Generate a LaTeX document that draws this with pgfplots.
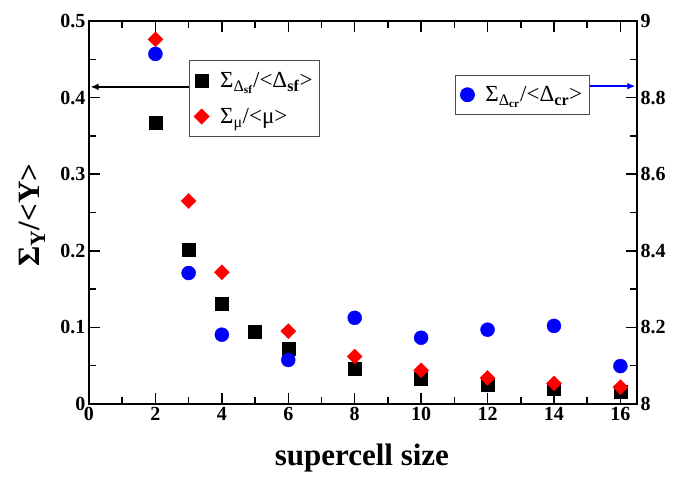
\documentclass[border=0pt]{standalone}
\usepackage{fontspec}
\setmainfont{Liberation Serif}
\usepackage{pgfplots}
\pgfplotsset{compat=1.18}
\usetikzlibrary{arrows.meta}

\begin{document}
\begin{tikzpicture}
\pgfplotsset{
  every axis/.append style={
    width=548pt, height=383pt, scale only axis,
    xmin=0, xmax=16.5,
    tick align=inside,
    major tick length=11pt, minor tick length=7pt,
    axis line style={line width=1.5pt},
    every tick/.style={line width=1.5pt, black},
    /pgf/number format/assume math mode=true,
    tick label style={font=\fontsize{20}{24}\selectfont\bfseries},
    legend cell align=left,
  },
}
\begin{axis}[
  ymin=0, ymax=0.5,
  xtick={0,2,4,6,8,10,12,14,16}, minor x tick num=1,
  ytick={0,0.1,0.2,0.3,0.4,0.5}, minor y tick num=1,
  ytick pos=left,
  xlabel={supercell size}, ylabel={Σ\textsubscript{Y}/<Y>},
  label style={font=\fontsize{31}{36}\selectfont\bfseries},
  xlabel style={at={(axis description cs:0.498,-0.141)}, anchor=center},
  ylabel style={at={(axis description cs:-0.104,0.493)}, anchor=center},
  legend style={at={(axis description cs:0.182,0.898)}, anchor=north west,
    draw=black!70, line width=0.8pt, font=\fontsize{23}{26}\selectfont,
    inner xsep=5pt, inner ysep=10pt, row sep=15pt, column sep=9pt},
]
\addplot[only marks, mark=square*, mark size=6.5pt, black] coordinates {
  (2,0.367) (3,0.202) (4,0.131) (5,0.094) (6,0.072) (8,0.046)
  (10,0.033) (12,0.025) (14,0.020) (16,0.016)
};
\addlegendentry{Σ\textsubscript{Δ\textsubscript{\textbf{sf}}}/<Δ\textsubscript{\textbf{sf}}>}
\addplot[only marks, mark=square*, mark size=5.3pt, red, mark options={rotate=45}] coordinates {
  (2,0.476) (3,0.265) (4,0.172) (6,0.095) (8,0.062)
  (10,0.044) (12,0.034) (14,0.027) (16,0.022)
};
\addlegendentry{Σ\textsubscript{μ}/<μ>}
\draw[line width=1.5pt, -{Latex[length=8pt,width=7pt]}] (axis cs:3.0,0.414) -- (axis cs:0.05,0.414);
\end{axis}
\begin{axis}[
  ymin=8, ymax=9,
  hide x axis, axis y line*=right,
  ytick={8,8.2,8.4,8.6,8.8,9}, minor y tick num=1,
  yticklabel style={/pgf/number format/fixed},
  legend style={at={(axis description cs:0.668,0.859)}, anchor=north west,
    draw=black!70, line width=0.8pt, font=\fontsize{23}{26}\selectfont,
    inner xsep=5pt, inner ysep=9pt, column sep=9pt},
]
\addplot[only marks, mark=*, mark size=7pt, blue] coordinates {
  (2,8.914) (3,8.342) (4,8.181) (6,8.115) (8,8.225)
  (10,8.173) (12,8.194) (14,8.204) (16,8.099)
};
\addlegendentry{Σ\textsubscript{Δ\textsubscript{\textbf{cr}}}/<Δ\textsubscript{\textbf{cr}}>}
\draw[blue, line width=1.5pt, -{Latex[length=8pt,width=7pt]}] (axis cs:15.04,8.83) -- (axis cs:16.45,8.83);
\end{axis}
\pgfresetboundingbox
\path[use as bounding box] (-89pt,-73pt) rectangle (584pt,404pt);
\end{tikzpicture}
\end{document}
